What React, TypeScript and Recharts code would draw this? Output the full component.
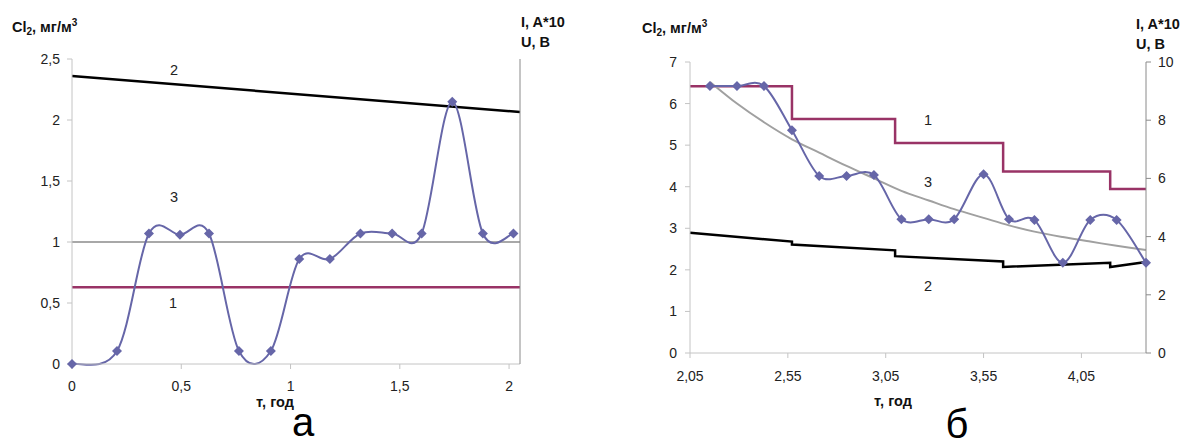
import React from 'react';
import { LineChart, Line, XAxis, YAxis } from 'recharts';

// ---------- Chart а ----------
const timeA = [0, 0.206, 0.352, 0.494, 0.627, 0.764, 0.91, 1.04, 1.18, 1.32, 1.465, 1.6, 1.74, 1.88, 2.02];
const cl2A = [0, 0.107, 1.07, 1.06, 1.07, 0.107, 0.107, 0.86, 0.86, 1.07, 1.07, 1.07, 2.15, 1.07, 1.07];
const line1AX = [0, 2.05];
const line1AY = [0.63, 0.63];
const line2AX = [0, 2.05];
const line2AY = [2.36, 2.065];
const line3AX = [0, 2.05];
const line3AY = [1, 1];
const xTicksA = [0, 0.5, 1, 1.5, 2];
const yTicksA = [0, 0.5, 1, 1.5, 2, 2.5];

// ---------- Chart б ----------
const timeB = [2.152, 2.29, 2.428, 2.571, 2.71, 2.85, 2.99, 3.13, 3.27, 3.4, 3.55, 3.68, 3.81, 3.955, 4.095, 4.23, 4.38];
const cl2B = [6.42, 6.42, 6.42, 5.36, 4.26, 4.26, 4.28, 3.22, 3.22, 3.22, 4.3, 3.22, 3.2, 2.17, 3.2, 3.2, 2.17];
const trendB = [6.52, 6.0, 5.55, 5.14, 4.82, 4.5, 4.2, 3.9, 3.67, 3.46, 3.25, 3.07, 2.92, 2.79, 2.68, 2.58, 2.48];
const line1BX = [2.05, 2.571, 2.571, 3.098, 3.098, 3.65, 3.65, 4.197, 4.197, 4.38];
const line1BY = [9.17, 9.17, 8.04, 8.04, 7.22, 7.22, 6.24, 6.24, 5.64, 5.64];
const line2BX = [2.05, 2.571, 2.571, 3.098, 3.098, 3.65, 3.65, 4.197, 4.197, 4.38];
const line2BY = [2.89, 2.68, 2.61, 2.47, 2.33, 2.2, 2.07, 2.17, 2.07, 2.19];
const xTicksB = [2.05, 2.55, 3.05, 3.55, 4.05];
const yTicksBLeft = [0, 1, 2, 3, 4, 5, 6, 7];
const yTicksBRight = [0, 2, 4, 6, 8, 10];

const zip = (xs: number[], ys: number[]) => xs.map((x, i) => ({ x, y: ys[i] }));

const BLUE = '#6666a8';
const PLUM = '#993366';
const FONT = "'Liberation Sans', Arial, sans-serif";

const fmt = (v: number) => String(v).replace('.', ',');

// Excel-like smoothed line (Catmull-Rom through the points)
const excelCurve: any = (context: any) => {
  let pts: number[][] = [];
  return {
    areaStart() {},
    areaEnd() {},
    lineStart() {
      pts = [];
    },
    point(x: number, y: number) {
      pts.push([+x, +y]);
    },
    lineEnd() {
      const n = pts.length;
      if (n === 0) return;
      context.moveTo(pts[0][0], pts[0][1]);
      for (let i = 0; i < n - 1; i++) {
        const p0 = pts[Math.max(i - 1, 0)];
        const p1 = pts[i];
        const p2 = pts[i + 1];
        const p3 = pts[Math.min(i + 2, n - 1)];
        context.bezierCurveTo(
          p1[0] + (p2[0] - p0[0]) / 6,
          p1[1] + (p2[1] - p0[1]) / 6,
          p2[0] - (p3[0] - p1[0]) / 6,
          p2[1] - (p3[1] - p1[1]) / 6,
          p2[0],
          p2[1]
        );
      }
    },
  };
};

const Diamond = (props: any) => {
  const { cx, cy, index } = props;
  if (cx == null || cy == null) return <g key={`n${index}`} />;
  const r = 5;
  return (
    <path
      key={`d${index}`}
      d={`M${cx},${cy - r}L${cx + r},${cy}L${cx},${cy + r}L${cx - r},${cy}Z`}
      fill={BLUE}
    />
  );
};

const tickStyle = { fill: '#222', fontSize: 14, fontFamily: FONT };
const titleStyle: React.CSSProperties = { fontFamily: FONT, fontWeight: 'bold', fontSize: 14.5, fill: '#111' };
const numStyle: React.CSSProperties = { fontFamily: FONT, fontSize: 14.5, fill: '#222' };
const capStyle: React.CSSProperties = { fontFamily: FONT, fontSize: 40, fill: '#000' };

const ClTitle = ({ x, y }: { x: number; y: number }) => (
  <text x={x} y={y} style={titleStyle}>
    Cl
    <tspan fontSize={10} dy={3}>2</tspan>
    <tspan dy={-3}>, мг/м</tspan>
    <tspan fontSize={10} dy={-6}>3</tspan>
  </text>
);

const ChartA = () => (
  <div style={{ position: 'absolute', left: 0, top: 0, width: 570, height: 446, overflow: 'hidden' }}>
    <LineChart width={570} height={446} margin={{ top: 59, left: 32, right: 10, bottom: 52 }}>
      <XAxis
        type="number"
        dataKey="x"
        domain={[0, 2.05]}
        ticks={xTicksA}
        interval={0}
        tickFormatter={fmt}
        axisLine={{ stroke: '#c4c4c4' }}
        tickLine={{ stroke: '#c4c4c4' }}
        tick={tickStyle}
        tickSize={5}
        tickMargin={12}
        height={30}
      />
      <YAxis
        yAxisId="left"
        type="number"
        domain={[0, 2.5]}
        ticks={yTicksA}
        interval={0}
        tickFormatter={fmt}
        axisLine={{ stroke: '#c4c4c4' }}
        tickLine={{ stroke: '#c4c4c4' }}
        tick={tickStyle}
        tickSize={5}
        tickMargin={7}
        width={40}
      />
      <YAxis
        yAxisId="right"
        orientation="right"
        type="number"
        domain={[0, 2.5]}
        ticks={yTicksA}
        interval={0}
        tickFormatter={fmt}
        axisLine={{ stroke: '#8a8a8a' }}
        tickLine={{ stroke: '#8a8a8a' }}
        tick={tickStyle}
        tickSize={4}
        tickMargin={4}
        width={40}
      />
      <Line yAxisId="left" data={zip(line3AX, line3AY)} dataKey="y" stroke="#a8a8a8" strokeWidth={2} dot={false} activeDot={false} isAnimationActive={false} />
      <Line yAxisId="left" data={zip(line1AX, line1AY)} dataKey="y" stroke={PLUM} strokeWidth={2.5} dot={false} activeDot={false} isAnimationActive={false} />
      <Line yAxisId="left" data={zip(line2AX, line2AY)} dataKey="y" stroke="#000" strokeWidth={2.5} dot={false} activeDot={false} isAnimationActive={false} />
      <Line yAxisId="left" data={zip(timeA, cl2A)} dataKey="y" type={excelCurve} stroke={BLUE} strokeWidth={2} dot={Diamond} activeDot={false} isAnimationActive={false} />
    </LineChart>
    <svg width={570} height={446} style={{ position: 'absolute', left: 0, top: 0, pointerEvents: 'none' }}>
      <ClTitle x={12} y={32} />
      <text x={521} y={27} style={titleStyle}>I, A*10</text>
      <text x={521} y={47} style={titleStyle}>U, B</text>
      <text x={174} y={75} textAnchor="middle" style={numStyle}>2</text>
      <text x={174} y={202} textAnchor="middle" style={numStyle}>3</text>
      <text x={173} y={308} textAnchor="middle" style={numStyle}>1</text>
      <text x={275} y={407} textAnchor="middle" style={titleStyle}>т, год</text>
      <text x={303} y={436} textAnchor="middle" style={capStyle}>а</text>
    </svg>
  </div>
);

const ChartB = () => (
  <div style={{ position: 'absolute', left: 620, top: 0, width: 567, height: 446, overflow: 'hidden' }}>
    <LineChart width={567} height={446} margin={{ top: 62, left: 30, right: 1, bottom: 63 }}>
      <XAxis
        type="number"
        dataKey="x"
        domain={[2.05, 4.38]}
        ticks={xTicksB}
        interval={0}
        tickFormatter={fmt}
        axisLine={{ stroke: '#c4c4c4' }}
        tickLine={{ stroke: '#c4c4c4' }}
        tick={tickStyle}
        tickSize={5}
        tickMargin={13}
        height={30}
      />
      <YAxis
        yAxisId="left"
        type="number"
        domain={[0, 7]}
        ticks={yTicksBLeft}
        interval={0}
        tickFormatter={fmt}
        axisLine={{ stroke: '#c4c4c4' }}
        tickLine={{ stroke: '#c4c4c4' }}
        tick={tickStyle}
        tickSize={5}
        tickMargin={8}
        width={40}
      />
      <YAxis
        yAxisId="right"
        orientation="right"
        type="number"
        domain={[0, 10]}
        ticks={yTicksBRight}
        interval={0}
        tickFormatter={fmt}
        axisLine={{ stroke: '#8a8a8a' }}
        tickLine={{ stroke: '#8a8a8a' }}
        tick={tickStyle}
        tickSize={5}
        tickMargin={7}
        width={40}
      />
      <Line yAxisId="left" data={zip(line2BX, line2BY)} dataKey="y" stroke="#000" strokeWidth={2.5} dot={false} activeDot={false} isAnimationActive={false} />
      <Line yAxisId="right" data={zip(line1BX, line1BY)} dataKey="y" stroke={PLUM} strokeWidth={2.5} dot={false} activeDot={false} isAnimationActive={false} />
      <Line yAxisId="left" data={zip(timeB, trendB)} dataKey="y" type={excelCurve} stroke="#a0a0a0" strokeWidth={2} dot={false} activeDot={false} isAnimationActive={false} />
      <Line yAxisId="left" data={zip(timeB, cl2B)} dataKey="y" type={excelCurve} stroke={BLUE} strokeWidth={2} dot={Diamond} activeDot={false} isAnimationActive={false} />
    </LineChart>
    <svg width={567} height={446} style={{ position: 'absolute', left: 0, top: 0, pointerEvents: 'none' }}>
      <ClTitle x={22} y={33} />
      <text x={516} y={29} style={titleStyle}>I, A*10</text>
      <text x={516} y={49} style={titleStyle}>U, B</text>
      <text x={308} y={125} textAnchor="middle" style={numStyle}>1</text>
      <text x={308} y={187} textAnchor="middle" style={numStyle}>3</text>
      <text x={308} y={291} textAnchor="middle" style={numStyle}>2</text>
      <text x={273} y={406} textAnchor="middle" style={titleStyle}>т, год</text>
      <text x={337} y={438} textAnchor="middle" style={capStyle}>б</text>
    </svg>
  </div>
);

export default function App() {
  return (
    <div style={{ position: 'absolute', left: 0, top: 0, width: 1187, height: 446, background: '#fff' }}>
      <ChartA />
      <ChartB />
    </div>
  );
}
